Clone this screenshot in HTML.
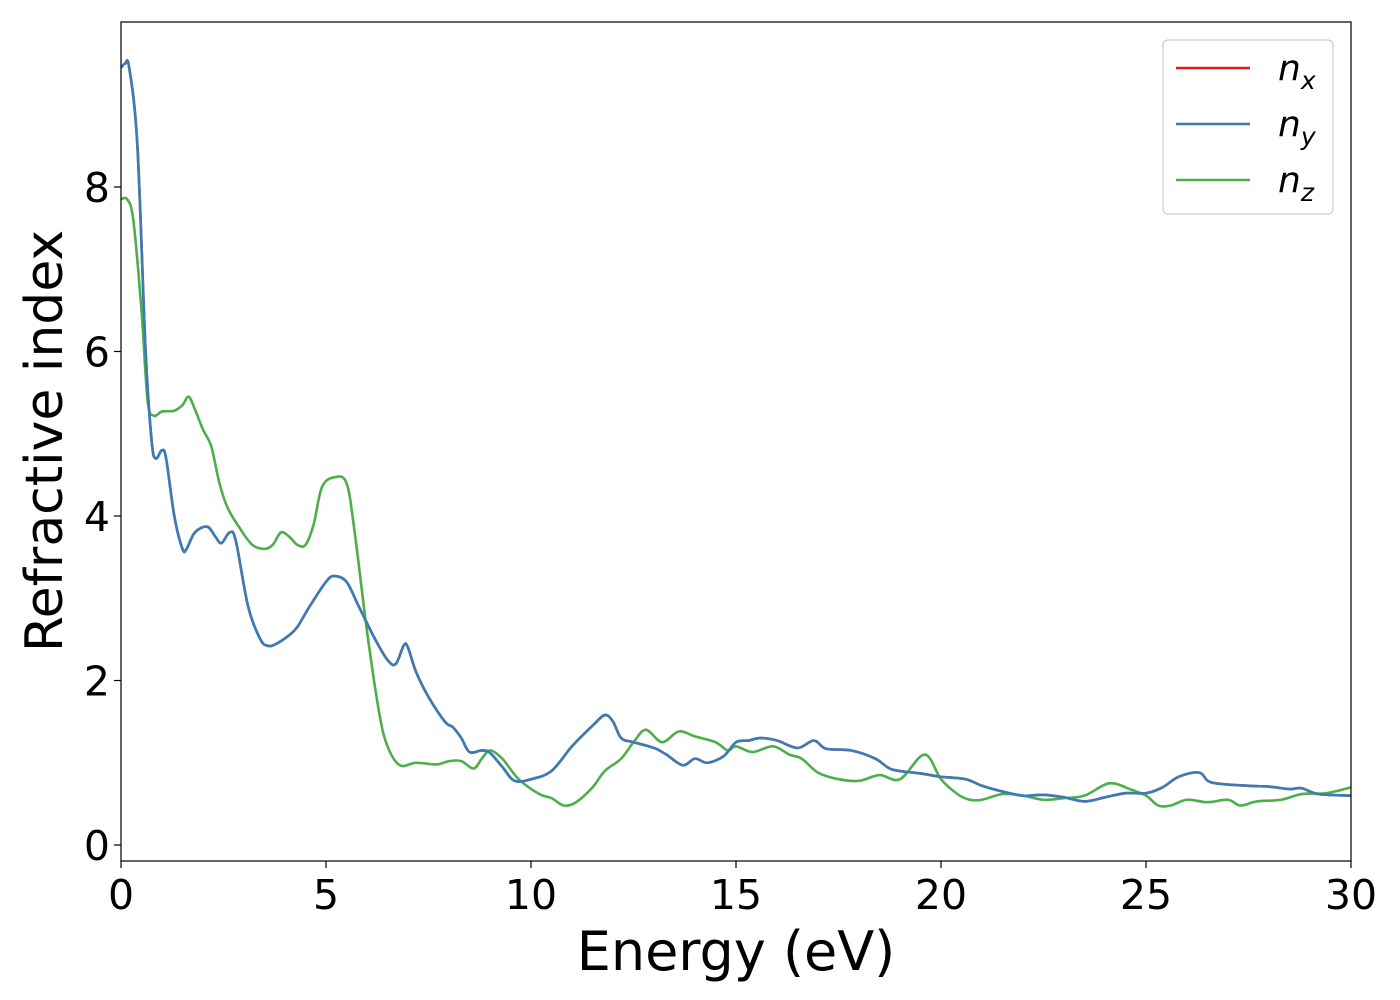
<!DOCTYPE html>
<html><head><meta charset="utf-8"><style>
body{margin:0;background:#fff}
svg{display:block;font-family:"DejaVu Sans","Liberation Sans",sans-serif}
</style></head><body>
<svg id="chart" width="1400" height="1000" viewBox="0 0 1400 1000" xmlns="http://www.w3.org/2000/svg">
<g id="plot"></g>
</svg>
<script>
const energyY = [0,0.1,0.2,0.4,0.6,0.75,0.85,1.0,1.1,1.3,1.5,1.6,1.8,2.1,2.3,2.45,2.65,2.8,3.1,3.4,3.6,3.8,4.1,4.3,4.6,5.0,5.2,5.5,5.8,6.2,6.5,6.7,6.9,7.0,7.2,7.5,7.9,8.1,8.3,8.5,8.8,9.0,9.3,9.6,10.0,10.5,11.0,11.5,11.8,12.0,12.2,12.5,13.0,13.3,13.7,14.0,14.3,14.7,15.0,15.3,15.6,16.0,16.5,16.9,17.2,17.8,18.4,18.8,19.5,20.0,20.6,21.0,21.5,22.0,22.5,23.0,23.5,24.0,24.5,25.0,25.4,25.8,26.3,26.6,27.5,28.0,28.5,28.8,29.2,30];
const nyValues = [9.45,9.5,9.45,8.5,6.0,4.9,4.7,4.8,4.7,4.0,3.6,3.6,3.8,3.87,3.75,3.67,3.8,3.7,2.9,2.5,2.42,2.45,2.55,2.65,2.9,3.2,3.27,3.2,2.9,2.5,2.25,2.2,2.43,2.4,2.1,1.8,1.5,1.43,1.3,1.13,1.15,1.12,0.95,0.78,0.8,0.9,1.2,1.45,1.58,1.5,1.3,1.25,1.18,1.1,0.97,1.05,1.0,1.08,1.25,1.27,1.3,1.27,1.18,1.27,1.17,1.15,1.05,0.92,0.87,0.83,0.8,0.72,0.65,0.6,0.61,0.58,0.53,0.58,0.63,0.63,0.7,0.83,0.88,0.76,0.72,0.71,0.68,0.69,0.62,0.6];
const nxValues = nyValues.slice();
const energyZ = [0,0.15,0.3,0.5,0.65,0.8,1.0,1.3,1.5,1.65,1.8,2.0,2.2,2.4,2.6,2.9,3.2,3.5,3.7,3.9,4.1,4.3,4.5,4.7,4.9,5.2,5.5,5.7,6.0,6.3,6.5,6.8,7.2,7.7,8.0,8.3,8.6,8.8,9.0,9.3,9.7,10.2,10.5,10.8,11.1,11.5,11.8,12.2,12.5,12.8,13.2,13.6,14.0,14.5,14.8,15.0,15.4,15.9,16.3,16.6,17.0,17.5,18.0,18.5,19.0,19.6,20.0,20.4,20.7,21.0,21.5,22.0,22.5,23.0,23.5,24.1,24.6,25.0,25.3,25.6,26.0,26.5,27.0,27.3,27.7,28.3,28.8,29.4,30];
const nzValues = [7.85,7.85,7.6,6.5,5.4,5.22,5.27,5.28,5.35,5.45,5.3,5.05,4.85,4.4,4.1,3.85,3.65,3.6,3.65,3.8,3.75,3.65,3.65,3.9,4.35,4.47,4.4,3.8,2.6,1.6,1.2,0.97,1.0,0.98,1.02,1.02,0.93,1.05,1.15,1.05,0.8,0.62,0.57,0.48,0.52,0.7,0.9,1.05,1.25,1.4,1.25,1.38,1.32,1.25,1.15,1.2,1.13,1.2,1.1,1.05,0.88,0.8,0.78,0.85,0.8,1.1,0.8,0.62,0.55,0.55,0.62,0.6,0.55,0.57,0.6,0.75,0.68,0.6,0.48,0.48,0.55,0.52,0.55,0.48,0.53,0.55,0.62,0.63,0.7];
const xTicks = [0,5,10,15,20,25,30];
const yTicks = [0,2,4,6,8];
const legendLabels = ['x','y','z'];

const NS='http://www.w3.org/2000/svg';
const L=121,R=1351,T=22,B=861;
const xs=v=>L+(v-0)/30*(R-L);
const ys=v=>845-v*82.25;
const g=document.getElementById('plot');
function mk(t,a,p){const e=document.createElementNS(NS,t);for(const k in a)e.setAttribute(k,a[k]);(p||g).appendChild(e);return e;}
function pathFor(X,Y){
  const P=X.map((x,i)=>[xs(x),ys(Y[i])]);
  let d='M'+P[0][0].toFixed(2)+','+P[0][1].toFixed(2);
  for(let i=0;i<P.length-1;i++){
    const p0=P[Math.max(0,i-1)],p1=P[i],p2=P[i+1],p3=P[Math.min(P.length-1,i+2)];
    const c1=[p1[0]+(p2[0]-p0[0])/6,p1[1]+(p2[1]-p0[1])/6];
    const c2=[p2[0]-(p3[0]-p1[0])/6,p2[1]-(p3[1]-p1[1])/6];
    d+=`C${c1[0].toFixed(2)},${c1[1].toFixed(2)} ${c2[0].toFixed(2)},${c2[1].toFixed(2)} ${p2[0].toFixed(2)},${p2[1].toFixed(2)}`;
  }
  return d;
}
const clip=mk('clipPath',{id:'clp'});mk('rect',{x:L,y:T,width:R-L,height:B-T},clip);
const series=[[energyY,nxValues,'#e41a1c','series-nx'],[energyZ,nzValues,'#4daf4a','series-nz'],[energyY,nyValues,'#377eb8','series-ny']];
series.forEach(s=>{
  const p=mk('path',{d:pathFor(s[0],s[1]),fill:'none',stroke:s[2],'stroke-width':2.6,'clip-path':'url(#clp)'});
  
  
});
const frame=mk('rect',{x:L,y:T,width:R-L,height:B-T,fill:'none',stroke:'#000','stroke-width':1.2});


xTicks.forEach(v=>{
  mk('line',{x1:xs(v),x2:xs(v),y1:B,y2:B+7,stroke:'#000','stroke-width':1.2});
  const t=mk('text',{x:xs(v),y:B+48,'font-size':41,'text-anchor':'middle'});t.textContent=v;
  
  
});
yTicks.forEach(v=>{
  mk('line',{x1:L-7,x2:L,y1:ys(v),y2:ys(v),stroke:'#000','stroke-width':1.2});
  const t=mk('text',{x:L-11,y:ys(v)+15,'font-size':41,'text-anchor':'end'});t.textContent=v;
  
  
});
const xt=mk('text',{x:736,y:970,'font-size':54,'text-anchor':'middle'});xt.textContent='Energy (eV)';


const yt=mk('text',{x:0,y:0,'font-size':52,'text-anchor':'middle',transform:'translate(62,441) rotate(-90)'});yt.textContent='Refractive index';


const lg=mk('g',{});


mk('rect',{x:1163,y:40,width:170,height:174,rx:5,fill:'#fff','fill-opacity':0.8,stroke:'#ccc','stroke-width':1.2},lg);
const lc=['#e41a1c','#377eb8','#4daf4a'];
legendLabels.forEach((s,i)=>{
  const y=68+i*56;
  const e=mk('g',{},lg);
  
  
  mk('line',{x1:1176,x2:1250,y1:y,y2:y,stroke:lc[i],'stroke-width':2.6},e);
  const t=mk('text',{x:1278,y:y+12,'font-size':36,'font-style':'italic'},e);
  t.innerHTML='n<tspan font-size="25" dy="9">'+s+'</tspan>';
});
</script>
</body></html>
